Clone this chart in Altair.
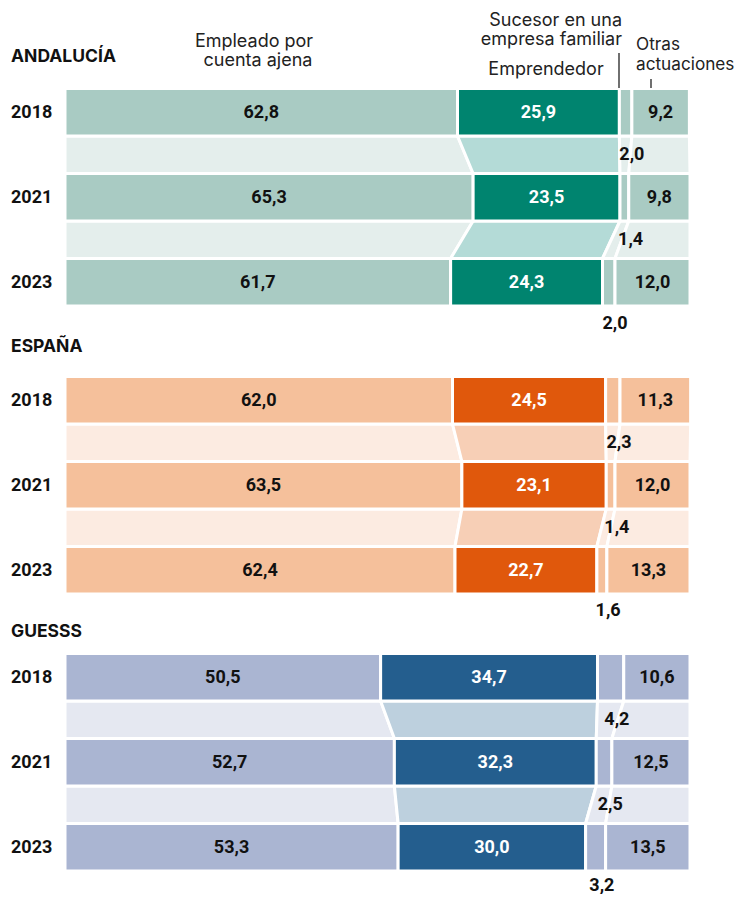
import altair as alt
import pandas as pd

groups = ["ANDALUCÍA", "ESPAÑA", "GUESSS"]
years = ["2018", "2021", "2023"]
categories = ["Empleado por cuenta ajena", "Emprendedor",
              "Sucesor en una empresa familiar", "Otras actuaciones"]

andalucia = [[62.8, 25.9, 2.0, 9.2], [65.3, 23.5, 1.4, 9.8], [61.7, 24.3, 2.0, 12.0]]
espana = [[62.0, 24.5, 2.3, 11.3], [63.5, 23.1, 1.4, 12.0], [62.4, 22.7, 1.6, 13.3]]
guesss = [[50.5, 34.7, 4.2, 10.6], [52.7, 32.3, 2.5, 12.5], [53.3, 30.0, 3.2, 13.5]]
values = [andalucia, espana, guesss]

# colours per group: light bar, dark bar, light band, dark band
palette = {
    "ANDALUCÍA": ["#a9cbc3", "#00846f", "#e4eeec", "#b4dbd7"],
    "ESPAÑA": ["#f5c09b", "#e0580c", "#fcebe1", "#f7cfb6"],
    "GUESSS": ["#aab5d2", "#245e8e", "#e5e8f1", "#bdd0de"],
}

# layout (chart pixel space)
W, H = 729, 886
PX_PER_PCT = 6.25
X0_PX = 57
group_top = [80.5, 368.5, 645.5]
title_y = [49, 339, 624]
last_gap = [18, 17, 15]
ROW = 85
BAR_H = 47.5

xscale = alt.Scale(domain=[-X0_PX / PX_PER_PCT, (W - X0_PX) / PX_PER_PCT], nice=False, zero=False)
yscale = alt.Scale(domain=[0, H], reverse=True, nice=False, zero=False)


def fmt(v):
    return f"{v:.1f}".replace(".", ",")


bar_rows, band_rows, year_rows, title_rows = [], [], [], []
for gi, g in enumerate(groups):
    pal = palette[g]
    title_rows.append({"t": g, "px": 3, "py": title_y[gi]})
    row_edges = []
    for yi, yr in enumerate(years):
        top = group_top[gi] + yi * ROW
        bot = top + BAR_H
        year_rows.append({"t": yr, "px": 3, "py": (top + bot) / 2 + 1})
        cum = 0.0
        edges = []
        for ci, cat in enumerate(categories):
            v = values[gi][yi][ci]
            x0, x1 = cum, cum + v
            cum = x1
            edges.append((x0, x1))
            if ci == 2:
                gap = last_gap[gi] if yi == len(years) - 1 else 19
                lx, ly = (x0 + x1) / 2 + 1.0, bot + gap
            else:
                lx, ly = (x0 + x1) / 2, (top + bot) / 2 + 1
            bar_rows.append({
                "group": g, "year": yr, "cat": cat,
                "x0": x0, "x1": x1, "y0": top, "y1": bot,
                "fill": pal[1] if ci == 1 else pal[0],
                "label": fmt(v), "lx": lx, "ly": ly,
                "lcolor": "#ffffff" if ci == 1 else "#111111",
            })
        row_edges.append((top, bot, edges))
    for yi in range(len(years) - 1):
        _, b_up, e_up = row_edges[yi]
        t_lo, _, e_lo = row_edges[yi + 1]
        for ci, cat in enumerate(categories):
            bid = f"{g}-{yi}-{ci}"
            fill = pal[3] if ci == 1 else pal[2]
            band_rows.append({"id": bid, "y": b_up, "xa": e_up[ci][0], "xb": e_up[ci][1], "fill": fill})
            band_rows.append({"id": bid, "y": t_lo, "xa": e_lo[ci][0], "xb": e_lo[ci][1], "fill": fill})

bars = pd.DataFrame(bar_rows)
bands = pd.DataFrame(band_rows)
years_df = pd.DataFrame(year_rows)
titles_df = pd.DataFrame(title_rows)

band_layer = alt.Chart(bands).mark_area(orient="horizontal", stroke="white", strokeWidth=3).encode(
    y=alt.Y("y:Q", scale=yscale, axis=None),
    x=alt.X("xa:Q", scale=xscale, axis=None),
    x2="xb:Q",
    detail="id:N",
    fill=alt.Fill("fill:N", scale=None),
)

bar_layer = alt.Chart(bars).mark_rect(stroke="white", strokeWidth=3).encode(
    x=alt.X("x0:Q", scale=xscale, axis=None),
    x2="x1:Q",
    y=alt.Y("y0:Q", scale=yscale, axis=None),
    y2="y1:Q",
    fill=alt.Fill("fill:N", scale=None),
)

val_layer = alt.Chart(bars).mark_text(font="Roboto", fontWeight="bold", fontSize=18,
                                      baseline="middle", align="center").encode(
    x=alt.X("lx:Q", scale=xscale, axis=None),
    y=alt.Y("ly:Q", scale=yscale, axis=None),
    text="label:N",
    color=alt.Color("lcolor:N", scale=None),
)

year_layer = alt.Chart(years_df).mark_text(font="Roboto", fontWeight="bold", fontSize=18,
                                           baseline="middle", align="left", color="#111111").encode(
    x=alt.X("px:Q", scale=None), y=alt.Y("py:Q", scale=None), text="t:N")

title_layer = alt.Chart(titles_df).mark_text(font="Inter", fontWeight="bold", fontSize=17.5,
                                             baseline="middle", align="left", color="#111111").encode(
    x=alt.X("px:Q", scale=None), y=alt.Y("py:Q", scale=None), text="t:N")

hdr_center = pd.DataFrame({"t": ["Empleado por", "cuenta ajena", "Emprendedor"],
                           "px": [246, 250, 538], "py": [33.5, 53, 62]})
hdr_right = pd.DataFrame({"t": ["Sucesor en una", "empresa familiar"],
                          "px": [614, 614], "py": [13, 32]})
hdr_left = pd.DataFrame({"t": ["Otras", "actuaciones"],
                         "px": [628, 628], "py": [37, 57]})


def hdr(df, align, size=18):
    return alt.Chart(df).mark_text(font="Inter", fontSize=size, baseline="middle",
                                   align=align, color="#222222").encode(
        x=alt.X("px:Q", scale=None), y=alt.Y("py:Q", scale=None), text="t:N")


leaders = pd.DataFrame({"px": [611, 643], "py": [45, 71], "py2": [80, 80]})
leader_layer = alt.Chart(leaders).mark_rule(color="#222222", strokeWidth=1.3).encode(
    x=alt.X("px:Q", scale=None), y=alt.Y("py:Q", scale=None), y2="py2:Q")

chart = alt.layer(
    band_layer, bar_layer, val_layer, year_layer, title_layer,
    hdr(hdr_center, "center"), hdr(hdr_right, "right"), hdr(hdr_left, "left", 17.2),
    leader_layer,
).properties(
    width=W, height=H, padding=0,
    autosize=alt.AutoSizeParams(type="none"),
).configure_view(stroke=None)

chart.save("out.html", embed_options={"renderer": "svg", "actions": False})
